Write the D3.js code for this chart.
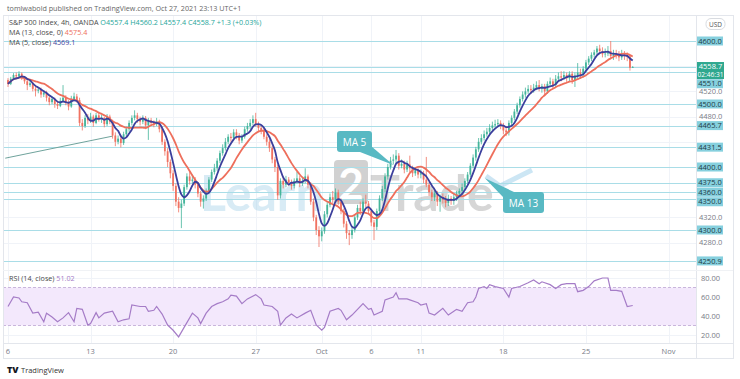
<!DOCTYPE html>
<html>
<head>
<meta charset="utf-8">
<script src="https://cdn.jsdelivr.net/npm/d3@7"></script>
<style>
  body { margin: 0; background: #fff; }
  svg { display: block; font-family: "Open Sans", "DejaVu Sans", sans-serif; }
</style>
</head>
<body>
<svg id="chart"></svg>
<script>
// S&P 500 Index, 4h candles (OANDA), Sep 6 - Oct 27 2021, 6 bars per trading day
const firstOpen = 4538;
const closes = [
  // Sep 6-7
  4532, 4540, 4546, 4544, 4548, 4541, 4536, 4530, 4533, 4524, 4521, 4523,
  // Sep 8-9
  4515, 4518, 4510, 4503, 4508, 4500, 4497, 4505, 4510, 4502, 4496, 4508,
  // Sep 10, 13
  4512, 4506, 4470, 4465, 4478, 4474, 4480, 4470, 4482, 4476, 4478, 4468,
  // Sep 14-15
  4480, 4472, 4450, 4440, 4445, 4438, 4452, 4460, 4470, 4478, 4482, 4476,
  // Sep 16-17
  4472, 4478, 4466, 4474, 4470, 4468, 4472, 4460, 4440, 4425, 4408, 4390,
  // Sep 20-21
  4370, 4345, 4335, 4342, 4368, 4385, 4378, 4380, 4372, 4358, 4345, 4350,
  // Sep 22-23
  4362, 4380, 4392, 4398, 4410, 4422, 4430, 4440, 4448, 4446, 4455, 4450,
  // Sep 24, 27
  4442, 4448, 4460, 4465, 4470, 4476, 4468, 4462, 4458, 4448, 4440, 4430,
  // Sep 28-29
  4412, 4400, 4355, 4378, 4372, 4380, 4375, 4370, 4378, 4382, 4374, 4378,
  // Sep 30, Oct 1
  4385, 4372, 4345, 4320, 4300, 4290, 4298, 4325, 4340, 4352, 4348, 4360,
  // Oct 4-5
  4345, 4330, 4310, 4295, 4292, 4300, 4320, 4335, 4330, 4345, 4342, 4330,
  // Oct 6-7
  4312, 4305, 4330, 4350, 4365, 4385, 4400, 4410, 4412, 4418, 4402, 4405,
  // Oct 8, 11
  4396, 4404, 4398, 4390, 4395, 4388, 4390, 4380, 4372, 4360, 4352, 4358,
  // Oct 12-13
  4345, 4352, 4348, 4343, 4350, 4346, 4352, 4358, 4362, 4368, 4378, 4388,
  // Oct 14-15
  4402, 4415, 4428, 4440, 4446, 4452, 4456, 4462, 4466, 4468, 4470, 4466,
  // Oct 18-19
  4458, 4455, 4470, 4478, 4488, 4498, 4508, 4515, 4520, 4524, 4522, 4526,
  // Oct 20-21
  4530, 4524, 4528, 4520, 4532, 4536, 4530, 4540, 4544, 4542, 4546, 4541,
  // Oct 22, 25
  4548, 4538, 4545, 4550, 4546, 4556, 4566, 4572, 4578, 4582, 4588, 4584,
  // Oct 26-27
  4579, 4580, 4584, 4576, 4580, 4578, 4574, 4578, 4576, 4575.4, 4557.4, 4558.7
];
const highs = [
  4541, 4543, 4549, 4550, 4552, 4550, 4544, 4539, 4537, 4535, 4528, 4527,
  4526, 4522, 4521, 4513, 4512, 4510, 4505, 4510, 4530, 4514, 4506, 4513,
  4518, 4516, 4510, 4476, 4482, 4484, 4486, 4483, 4486, 4488, 4483, 4480,
  4484, 4483, 4475, 4455, 4450, 4448, 4456, 4464, 4474, 4482, 4490, 4486,
  4480, 4482, 4481, 4478, 4478, 4474, 4478, 4475, 4464, 4444, 4430, 4412,
  4395, 4374, 4352, 4348, 4372, 4390, 4392, 4388, 4384, 4376, 4362, 4355,
  4366, 4384, 4396, 4405, 4414, 4426, 4436, 4446, 4452, 4454, 4460, 4460,
  4454, 4452, 4464, 4470, 4476, 4482, 4486, 4472, 4466, 4462, 4452, 4444,
  4434, 4416, 4404, 4382, 4384, 4386, 4384, 4380, 4382, 4392, 4386, 4384,
  4398, 4388, 4376, 4350, 4324, 4306, 4304, 4330, 4346, 4358, 4362, 4366,
  4364, 4350, 4334, 4314, 4300, 4306, 4325, 4340, 4345, 4350, 4356, 4346,
  4334, 4316, 4334, 4355, 4370, 4390, 4405, 4416, 4420, 4427, 4422, 4412,
  4410, 4410, 4418, 4402, 4400, 4398, 4396, 4394, 4416, 4376, 4364, 4362,
  4362, 4356, 4358, 4354, 4356, 4354, 4358, 4362, 4366, 4374, 4382, 4392,
  4406, 4420, 4432, 4446, 4452, 4458, 4462, 4468, 4472, 4475, 4476, 4474,
  4470, 4464, 4474, 4482, 4492, 4502, 4512, 4520, 4526, 4530, 4530, 4532,
  4536, 4538, 4532, 4532, 4536, 4542, 4540, 4546, 4550, 4552, 4552, 4550,
  4552, 4552, 4550, 4565, 4556, 4560, 4570, 4576, 4582, 4586, 4592, 4594,
  4590, 4588, 4592, 4600, 4586, 4586, 4584, 4586, 4584, 4582, 4578, 4560.2
];
const lows = [
  4527, 4530, 4538, 4541, 4542, 4538, 4532, 4522, 4527, 4520, 4512, 4517,
  4510, 4511, 4504, 4498, 4500, 4494, 4492, 4495, 4503, 4498, 4490, 4494,
  4505, 4502, 4465, 4458, 4462, 4468, 4470, 4464, 4468, 4472, 4470, 4463,
  4465, 4468, 4445, 4433, 4436, 4431, 4435, 4448, 4456, 4466, 4474, 4470,
  4466, 4468, 4460, 4443, 4465, 4463, 4465, 4455, 4435, 4418, 4400, 4382,
  4362, 4338, 4328, 4303, 4338, 4364, 4372, 4374, 4366, 4352, 4337, 4334,
  4346, 4358, 4376, 4388, 4394, 4406, 4418, 4426, 4436, 4440, 4442, 4444,
  4436, 4438, 4445, 4456, 4460, 4466, 4464, 4456, 4452, 4444, 4434, 4424,
  4406, 4392, 4348, 4350, 4366, 4368, 4370, 4364, 4366, 4374, 4368, 4370,
  4374, 4366, 4340, 4314, 4292, 4273, 4282, 4294, 4320, 4336, 4342, 4344,
  4340, 4325, 4304, 4286, 4276, 4286, 4296, 4316, 4324, 4326, 4336, 4325,
  4306, 4284, 4300, 4326, 4346, 4360, 4380, 4396, 4404, 4406, 4396, 4398,
  4390, 4392, 4392, 4384, 4386, 4382, 4382, 4374, 4368, 4354, 4346, 4346,
  4338, 4329, 4342, 4336, 4338, 4340, 4340, 4346, 4352, 4356, 4364, 4374,
  4384, 4398, 4410, 4424, 4436, 4442, 4448, 4452, 4458, 4462, 4464, 4460,
  4452, 4449, 4450, 4466, 4474, 4484, 4494, 4504, 4510, 4516, 4516, 4518,
  4522, 4520, 4518, 4514, 4516, 4528, 4524, 4526, 4536, 4536, 4538, 4535,
  4536, 4532, 4527, 4540, 4540, 4542, 4552, 4562, 4568, 4574, 4578, 4580,
  4574, 4574, 4576, 4572, 4570, 4572, 4568, 4570, 4570, 4568, 4553, 4557.4
];

// RSI (14, close) readings: [bar index, value]
const rsiPoints = [
  [0, 50], [2, 60], [4, 59], [5, 55], [7, 54], [9, 43], [11, 44], [13, 34], [14, 43],
  [16, 39], [18, 34], [20, 38], [22, 43.5], [24, 34], [25, 48], [27, 47], [29, 30.5],
  [30, 32], [32, 43.5], [33, 38], [35, 43], [38, 45], [40, 34], [42, 36], [44, 37],
  [45, 51.6], [48, 50], [50, 50], [51, 45], [53, 46], [54, 50], [56, 42], [58, 30.5],
  [60, 25], [62, 18], [64, 28], [67, 43], [69, 38], [70, 32], [72, 43], [74, 50],
  [76, 53], [78, 55], [80, 58], [81, 62], [83, 61], [85, 53], [87, 58], [90, 62.5],
  [92, 58], [93, 51.6], [96, 50], [98, 45], [99, 30.5], [101, 38], [103, 42], [105, 38],
  [108, 43], [110, 46], [112, 30.5], [114, 25], [115, 28], [117, 45], [120, 48], [121, 46],
  [123, 36], [125, 41], [129, 53], [131, 47], [132, 48], [133, 41], [136, 45], [137, 57],
  [140, 60], [141, 64.5], [142, 58], [145, 58], [146, 57], [149, 54], [150, 51.6], [152, 53],
  [153, 43], [155, 41], [158, 48], [160, 41], [162, 45], [163, 47], [165, 45], [167, 54],
  [169, 55], [170, 60], [171, 69], [173, 71], [174, 69], [175, 73], [177, 71], [180, 69],
  [182, 60], [183, 69], [186, 71], [189, 75], [191, 78], [193, 74], [194, 76], [197, 73],
  [199, 69], [201, 73], [203, 74], [206, 74], [207, 65.6], [209, 67], [211, 71], [213, 77],
  [216, 80], [218, 80], [219, 67], [221, 67], [223, 66], [225, 50], [227, 51.02]
];

// horizontal levels drawn on the chart
const levels = [4600, 4551, 4500, 4465.7, 4431.5, 4400, 4375, 4360, 4350, 4300, 4250.9];
const priceTicks = [4280, 4320, 4360, 4400, 4440, 4480, 4520, 4560, 4600];
const rsiTicks = [20, 40, 60, 80];
// time axis: [bar index, label]
const timeTicks = [[0, "6"], [30, "13"], [60, "20"], [90, "27"], [114, "Oct"], [132, "6"],
  [150, "11"], [180, "18"], [210, "25"], [240, "Nov"]];
// trend line drawing: [bar index, price]
const trendLine = [[-1, 4414], [38, 4449]];

const width = 740, height = 379;
const padL = 3, plotR = 696, padR = 733;
const paneTop = 15, priceBottom = 270, rsiBottom = 343, frameBottom = 358;

const upColor = "#45b59b", downColor = "#f07262";
const levelColor = "#a9dde7", levelLabel = "#86d0de";
const grey = "#787b86";

const svg = d3.select("#chart").attr("width", width).attr("height", height);

const x = d3.scaleLinear().domain([0, 240]).range([8, 668.5]);
const y = d3.scaleLinear().domain([4600, 4300]).range([41, 230]);
const yr = d3.scaleLinear().domain([80, 20]).range([278, 335]);

const opens = closes.map((c, i) => (i === 0 ? firstOpen : closes[i - 1]));

function sma(arr, n) {
  return arr.map((v, i) => d3.mean(arr.slice(Math.max(0, i - n + 1), i + 1)));
}
const ma5 = sma(closes, 5);
const ma13 = sma(closes, 13);

const defs = svg.append("defs");
defs.append("clipPath").attr("id", "clipPrice")
  .append("rect").attr("x", padL).attr("y", paneTop).attr("width", plotR - padL).attr("height", priceBottom - paneTop);
defs.append("clipPath").attr("id", "clipRsi")
  .append("rect").attr("x", padL).attr("y", priceBottom).attr("width", plotR - padL).attr("height", rsiBottom - priceBottom);

svg.append("rect").attr("width", width).attr("height", height).attr("fill", "#fff");

// grid
const grid = svg.append("g").attr("stroke", "#f0f3f8").attr("stroke-width", 1);
grid.selectAll("line.v").data(timeTicks).join("line")
  .attr("x1", d => Math.round(x(d[0])) + 0.5).attr("x2", d => Math.round(x(d[0])) + 0.5)
  .attr("y1", paneTop).attr("y2", rsiBottom);
grid.selectAll("line.h").data(priceTicks).join("line")
  .attr("x1", padL).attr("x2", plotR)
  .attr("y1", d => Math.round(y(d)) + 0.5).attr("y2", d => Math.round(y(d)) + 0.5);
grid.selectAll("line.r").data(rsiTicks).join("line")
  .attr("x1", padL).attr("x2", plotR)
  .attr("y1", d => Math.round(yr(d)) + 0.5).attr("y2", d => Math.round(yr(d)) + 0.5);

// watermark
const wm = svg.append("g").attr("opacity", 0.45).style("font-family", "Lato, 'Open Sans', sans-serif")
  .style("font-weight", 700).style("font-size", "50px");
wm.append("text").attr("x", 200).attr("y", 211).attr("fill", "#a9d3ea").text("Learn");
wm.append("rect").attr("x", 334).attr("y", 160).attr("width", 34).attr("height", 44).attr("rx", 4).attr("fill", "#9a9a9a");
wm.append("text").attr("x", 351).attr("y", 200).attr("text-anchor", "middle").attr("fill", "#fff").style("font-size", "44px").text("2");
wm.append("text").attr("x", 370).attr("y", 211).attr("fill", "#a5a5a5").text("Trade");
wm.append("path").attr("d", "M486,176 L500,186 L532,170").attr("fill", "none").attr("stroke", "#8fc7e6").attr("stroke-width", 5);

// price pane
const pricePane = svg.append("g").attr("clip-path", "url(#clipPrice)");
const lastClose = closes[closes.length - 1];

pricePane.append("g").selectAll("line").data(levels.concat([lastClose])).join("line")
  .attr("x1", padL).attr("x2", plotR)
  .attr("y1", d => Math.round(y(d)) + 0.5).attr("y2", d => Math.round(y(d)) + 0.5)
  .attr("stroke", levelColor).attr("stroke-width", 1.2);

pricePane.append("line")
  .attr("x1", x(trendLine[0][0])).attr("y1", y(trendLine[0][1]))
  .attr("x2", x(trendLine[1][0])).attr("y2", y(trendLine[1][1]))
  .attr("stroke", "#6fa39c").attr("stroke-width", 1);

const candles = pricePane.append("g").selectAll("g").data(closes).join("g")
  .attr("fill", (c, i) => (c >= opens[i] ? upColor : downColor))
  .attr("stroke", (c, i) => (c >= opens[i] ? upColor : downColor));
candles.append("line")
  .attr("x1", (c, i) => x(i)).attr("x2", (c, i) => x(i))
  .attr("y1", (c, i) => y(highs[i])).attr("y2", (c, i) => y(lows[i]))
  .attr("stroke-width", 0.8);
candles.append("rect")
  .attr("stroke", "none")
  .attr("x", (c, i) => x(i) - 0.9).attr("width", 1.8)
  .attr("y", (c, i) => y(Math.max(c, opens[i])))
  .attr("height", (c, i) => Math.max(0.8, Math.abs(y(c) - y(opens[i]))));

const maLine = d3.line().x((d, i) => x(i)).y(d => y(d)).curve(d3.curveMonotoneX);
pricePane.append("path").datum(ma13).attr("d", maLine)
  .attr("fill", "none").attr("stroke", "#ee6f5c").attr("stroke-width", 1.8);
pricePane.append("path").datum(ma5).attr("d", maLine)
  .attr("fill", "none").attr("stroke", "#3b3f9c").attr("stroke-width", 1.8);

// callouts, tip anchored to [bar index, price]
const callouts = [
  { text: "MA 5", at: [140, 4403], bx: 337, by: 131, w: 35, tail: [[360, 152], [371, 146]] },
  { text: "MA 13", at: [173.3, 4382], bx: 503, by: 192, w: 41, tail: [[503, 197], [514, 192]] }
];
const co = svg.append("g");
callouts.forEach(c => {
  co.append("path")
    .attr("d", `M${c.tail[0][0]},${c.tail[0][1]} L${x(c.at[0])},${y(c.at[1])} L${c.tail[1][0]},${c.tail[1][1]} Z`)
    .attr("fill", "#58b9c3");
  co.append("rect").attr("x", c.bx).attr("y", c.by).attr("width", c.w).attr("height", 21).attr("rx", 3)
    .attr("fill", "#58b9c3");
  co.append("text").attr("x", c.bx + c.w / 2).attr("y", c.by + 14.5).attr("text-anchor", "middle")
    .attr("fill", "#fff").style("font-size", "10px").text(c.text);
});

// RSI pane
const rsiPane = svg.append("g").attr("clip-path", "url(#clipRsi)");
rsiPane.append("rect")
  .attr("x", padL).attr("width", plotR - padL)
  .attr("y", yr(70)).attr("height", yr(30) - yr(70))
  .attr("fill", "#f3e8fc");
rsiPane.selectAll("line.band").data([70, 30]).join("line")
  .attr("x1", padL).attr("x2", plotR)
  .attr("y1", d => yr(d)).attr("y2", d => yr(d))
  .attr("stroke", "#c9b6dc").attr("stroke-dasharray", "3,2");
rsiPane.append("path").datum(rsiPoints)
  .attr("d", d3.line().x(d => x(d[0])).y(d => yr(d[1])))
  .attr("fill", "none").attr("stroke", "#a57cc7").attr("stroke-width", 1.2);

// frame
const frame = svg.append("g").attr("stroke", "#e3e6ec").attr("fill", "none");
frame.append("rect").attr("x", padL + 0.5).attr("y", paneTop + 0.5).attr("width", padR - padL).attr("height", frameBottom - paneTop);
frame.append("line").attr("x1", plotR + 0.5).attr("x2", plotR + 0.5).attr("y1", paneTop).attr("y2", frameBottom);
frame.append("line").attr("x1", padL).attr("x2", padR).attr("y1", rsiBottom + 0.5).attr("y2", rsiBottom + 0.5);
frame.append("line").attr("x1", padL).attr("x2", padR).attr("y1", priceBottom + 0.5).attr("y2", priceBottom + 0.5)
  .attr("stroke", "#f0f2f5");

const fmt = d3.format(".1f");
const axisG = svg.append("g").style("font-size", "7.5px");

// level labels, pushed down when they would overlap the price label or each other
const cp = y(lastClose) - 5;
const placed = [];
let prevBottom = -Infinity;
levels.map(v => ({ v, cy: y(v) })).sort((a, b) => a.cy - b.cy).forEach(d => {
  let cy = d.cy;
  if (cy + 4.75 > cp && cy - 4.75 < cp + 17) cy = cp + 17 + 4.75;
  if (cy - 4.75 < prevBottom) cy = prevBottom + 4.75;
  placed.push({ v: d.v, cy });
  prevBottom = cy + 4.75;
});

// plain price ticks: skip the ones hidden behind a label box
const boxes = placed.map(d => [d.cy - 4.5, d.cy + 4.5]).concat([[cp, cp + 17]]);
const visibleTicks = priceTicks.filter(t => !boxes.some(b => y(t) > b[0] - 1 && y(t) < b[1] + 1));
axisG.selectAll("text.tick").data(visibleTicks).join("text")
  .attr("x", 699).attr("y", d => y(d) + 2.7).attr("fill", grey).text(fmt);
axisG.selectAll("text.rsi").data(rsiTicks).join("text")
  .attr("x", 701).attr("y", d => yr(d) + 2.7).attr("fill", grey).text(d3.format(".2f"));

const lab = axisG.selectAll("g.lvl").data(placed).join("g");
lab.append("rect").attr("x", 697).attr("y", d => d.cy - 4.5).attr("width", 26).attr("height", 9)
  .attr("fill", levelLabel);
lab.append("text").attr("x", 710).attr("y", d => d.cy + 2.7).attr("text-anchor", "middle")
  .attr("fill", "#1e3b45").text(d => fmt(d.v));

// current price label
axisG.append("rect").attr("x", 697).attr("y", cp).attr("width", 27).attr("height", 17).attr("fill", "#2fa88f");
axisG.append("text").attr("x", 710.5).attr("y", cp + 7.3).attr("text-anchor", "middle")
  .attr("fill", "#fff").text(fmt(lastClose));
axisG.append("text").attr("x", 710.5).attr("y", cp + 14.8).attr("text-anchor", "middle")
  .attr("fill", "#fff").style("font-size", "6.6px").text("02:46:31");

// USD
svg.append("rect").attr("x", 706).attr("y", 18.5).attr("width", 19).attr("height", 11).attr("rx", 5)
  .attr("fill", "#fff").attr("stroke", "#d8dbe0");
svg.append("text").attr("x", 715.5).attr("y", 26.5).attr("text-anchor", "middle")
  .attr("fill", "#555").style("font-size", "6.5px").text("USD");

// time axis
svg.append("g").style("font-size", "7.5px").selectAll("text").data(timeTicks).join("text")
  .attr("x", d => x(d[0])).attr("y", 353.5).attr("text-anchor", "middle")
  .attr("fill", grey).text(d => d[1]);

// legends
const n = closes.length - 1;
const chg = closes[n] - opens[n];
const legend = svg.append("g").style("font-size", "7.2px");
const l1 = legend.append("text").attr("x", 9).attr("y", 25);
l1.append("tspan").attr("fill", "#4a4a4a").text("S&P 500 Index, 4h, OANDA  ");
l1.append("tspan").attr("fill", "#26a69a")
  .text(`O${fmt(opens[n])}  H${fmt(highs[n])}  L${fmt(lows[n])}  C${fmt(closes[n])}  ${d3.format("+.1f")(chg)} (${d3.format("+.2f")(chg / opens[n] * 100)}%)`);
const l2 = legend.append("text").attr("x", 9).attr("y", 35);
l2.append("tspan").attr("fill", "#4a4a4a").text("MA (13, close, 0)  ");
l2.append("tspan").attr("fill", "#ee6f5c").text(fmt(ma13[n]));
const l3 = legend.append("text").attr("x", 9).attr("y", 44.5);
l3.append("tspan").attr("fill", "#4a4a4a").text("MA (5, close)  ");
l3.append("tspan").attr("fill", "#3b3f9c").text(fmt(ma5[n]));
const l4 = legend.append("text").attr("x", 9).attr("y", 281);
l4.append("tspan").attr("fill", "#4a4a4a").text("RSI (14, close)  ");
l4.append("tspan").attr("fill", "#a57cc7").text(d3.format(".2f")(rsiPoints[rsiPoints.length - 1][1]));

svg.append("text").attr("x", 7).attr("y", 11).attr("fill", "#666").style("font-size", "7.2px")
  .text("tomlwabold published on TradingView.com, Oct 27, 2021 23:13 UTC+1");

// footer logo
svg.append("text").attr("x", 7).attr("y", 373).attr("fill", "#131722")
  .style("font-size", "9px").style("font-weight", 900).text("TV");
svg.append("text").attr("x", 21).attr("y", 372.5).attr("fill", "#333")
  .style("font-size", "7.5px").text("TradingView");
</script>
</body>
</html>
